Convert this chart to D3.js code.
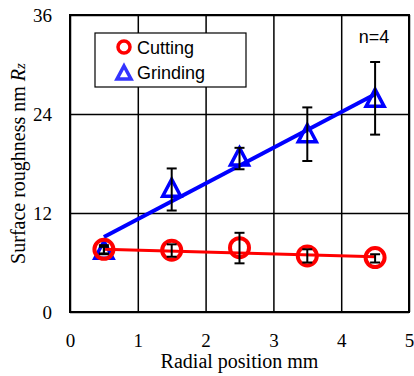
<!DOCTYPE html>
<html>
<head>
<meta charset="utf-8">
<script src="https://cdn.jsdelivr.net/npm/d3@7"></script>
<style>
  body { margin: 0; background: #fff; }
  svg { display: block; }
</style>
</head>
<body>
<div id="chart"></div>
<script>
const positions = [0.5, 1.5, 2.5, 3.5, 4.5]

const cutting = [7.6, 7.5, 7.8, 6.8, 6.6]
const cuttingHi = [8.1, 8.2, 9.6, 7.6, 7.0]
const cuttingLo = [7.0, 6.7, 5.9, 6.0, 6.0]

const grinding = [7.5, 15.0, 18.8, 21.6, 25.9]
const grindingHi = [7.9, 17.4, 19.9, 24.8, 30.3]
const grindingLo = [7.1, 12.3, 17.3, 18.3, 21.5]

// trend line end points
const trendX = [0.5, 4.5]
const cuttingTrend = [7.6, 6.7]
const grindingTrend = [9.1, 26.4]

const xTicks = [0, 1, 2, 3, 4, 5]
const yTicks = [0, 12, 24, 36]

const margin = { top: 15, right: 5, bottom: 64, left: 70 }
const W = 414
const H = 376
const width = W - margin.left - margin.right
const height = H - margin.top - margin.bottom

const svg = d3
  .select('#chart')
  .append('svg')
  .attr('width', W)
  .attr('height', H)

const g = svg
  .append('g')
  .attr('transform', 'translate(' + margin.left + ',' + margin.top + ')')

const x = d3.scaleLinear().domain([0, 5]).range([0, width])
const y = d3.scaleLinear().domain([0, 36]).range([height, 0])

// grid
g.append('g')
  .call(d3.axisBottom(x).tickValues(xTicks).tickSize(-height).tickFormat(''))
  .attr('transform', 'translate(0,' + height + ')')
  .call(a => a.selectAll('line').attr('stroke', '#000').attr('stroke-width', 1.5))
  .call(a => a.select('.domain').remove())

g.append('g')
  .call(d3.axisLeft(y).tickValues(yTicks).tickSize(-width).tickFormat(''))
  .call(a => a.selectAll('line').attr('stroke', '#000').attr('stroke-width', 1.5))
  .call(a => a.select('.domain').remove())

g.append('rect')
  .attr('width', width)
  .attr('height', height)
  .attr('fill', 'none')
  .attr('stroke', '#000')
  .attr('stroke-width', 2)

// tick labels
const xAxis = g.append('g')
  .attr('transform', 'translate(0,' + height + ')')
  .call(d3.axisBottom(x).tickValues(xTicks).tickSize(0).tickPadding(22).tickFormat(d3.format('d')))
xAxis.select('.domain').remove()
xAxis.selectAll('text')
  .attr('font-family', 'Liberation Serif, Times New Roman, serif')
  .attr('font-size', 19)
  .attr('fill', '#000')

const yAxis = g.append('g')
  .call(d3.axisLeft(y).tickValues(yTicks).tickSize(0).tickPadding(18).tickFormat(d3.format('d')))
yAxis.select('.domain').remove()
yAxis.selectAll('text')
  .attr('font-family', 'Liberation Serif, Times New Roman, serif')
  .attr('font-size', 19)
  .attr('fill', '#000')

// axis titles
svg.append('text')
  .attr('x', margin.left + width / 2)
  .attr('y', 368)
  .attr('text-anchor', 'middle')
  .attr('font-family', 'Liberation Serif, Times New Roman, serif')
  .attr('font-size', 20)
  .text('Radial position mm')

const yTitle = svg.append('text')
  .attr('transform', 'translate(25,' + (margin.top + height / 2) + ') rotate(-90)')
  .attr('text-anchor', 'middle')
  .attr('font-family', 'Liberation Serif, Times New Roman, serif')
  .attr('font-size', 20)
yTitle.append('tspan').text('Surface roughness nm ')
yTitle.append('tspan').attr('font-style', 'italic').text('R')
yTitle.append('tspan').attr('font-style', 'italic').attr('font-size', 15).text('z')

// trend lines
const line = d3.line().x(d => x(d[0])).y(d => y(d[1]))

g.append('path')
  .datum(trendX.map((d, i) => [d, grindingTrend[i]]))
  .attr('d', line)
  .attr('fill', 'none')
  .attr('stroke', '#0000ff')
  .attr('stroke-width', 4)

const triangle = 'M0,-9 L9,8 L-9,8 Z'

g.selectAll('.tri')
  .data(positions)
  .enter()
  .append('path')
  .attr('class', 'tri')
  .attr('d', triangle)
  .attr('transform', (d, i) => 'translate(' + x(d) + ',' + y(grinding[i]) + ')')
  .attr('fill', 'none')
  .attr('stroke', '#0000ff')
  .attr('stroke-width', 3.5)
  .attr('stroke-linejoin', 'miter')

g.append('path')
  .datum(trendX.map((d, i) => [d, cuttingTrend[i]]))
  .attr('d', line)
  .attr('fill', 'none')
  .attr('stroke', '#ff0000')
  .attr('stroke-width', 3)

g.selectAll('.circ')
  .data(positions)
  .enter()
  .append('circle')
  .attr('class', 'circ')
  .attr('cx', d => x(d))
  .attr('cy', (d, i) => y(cutting[i]))
  .attr('r', 9.5)
  .attr('fill', 'none')
  .attr('stroke', '#ff0000')
  .attr('stroke-width', 4)

// error bars
function errorBars(lo, hi) {
  const eb = g.append('g').attr('stroke', '#000').attr('stroke-width', 2)
  positions.forEach((p, i) => {
    eb.append('line')
      .attr('x1', x(p)).attr('x2', x(p))
      .attr('y1', y(lo[i])).attr('y2', y(hi[i]))
    ;[lo[i], hi[i]].forEach(v => {
      eb.append('line')
        .attr('x1', x(p) - 5).attr('x2', x(p) + 5)
        .attr('y1', y(v)).attr('y2', y(v))
    })
  })
}
errorBars(grindingLo, grindingHi)
errorBars(cuttingLo, cuttingHi)

// legend
const legend = svg.append('g')
legend.append('rect')
  .attr('x', 95)
  .attr('y', 33)
  .attr('width', 151)
  .attr('height', 54)
  .attr('fill', '#fff')
  .attr('stroke', '#000')
  .attr('stroke-width', 1.2)

legend.append('circle')
  .attr('cx', 124)
  .attr('cy', 47)
  .attr('r', 6)
  .attr('fill', 'none')
  .attr('stroke', '#ff0000')
  .attr('stroke-width', 3.5)

legend.append('path')
  .attr('d', 'M0,-7 L7,6 L-7,6 Z')
  .attr('transform', 'translate(124,73)')
  .attr('fill', 'none')
  .attr('stroke', '#3333ff')
  .attr('stroke-width', 3.5)

legend.selectAll('.ltext')
  .data(['Cutting', 'Grinding'])
  .enter()
  .append('text')
  .attr('x', 137)
  .attr('y', (d, i) => 54 + i * 25)
  .attr('font-family', 'Liberation Sans, Arial, sans-serif')
  .attr('font-size', 18)
  .attr('fill', '#000')
  .text(d => d)

svg.append('text')
  .attr('x', 374)
  .attr('y', 43)
  .attr('text-anchor', 'middle')
  .attr('font-family', 'Liberation Sans, Arial, sans-serif')
  .attr('font-size', 18)
  .text('n=4')
</script>
</body>
</html>
